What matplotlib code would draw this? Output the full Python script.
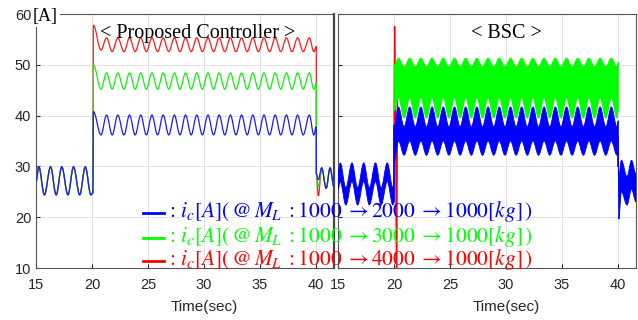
import matplotlib
matplotlib.use('Agg')
import matplotlib.pyplot as plt
from matplotlib.path import Path
from matplotlib.patches import PathPatch
from matplotlib.lines import Line2D

plt.rcParams['mathtext.fontset'] = 'stix'
plt.rcParams['font.family'] = ['Liberation Sans', 'DejaVu Sans']

# ---- values ----
x_ticks = [15, 20, 25, 30, 35, 40]
y_ticks = [10, 20, 30, 40, 50, 60]

# proposed controller, 15..20 s (all three loads identical, 1000 kg)
pre_t = [15.0, 15.25, 15.75, 16.3, 16.8, 17.3, 17.85, 18.35, 18.9, 19.4, 19.9, 20.08]
pre_v = [27.0, 29.9, 24.4, 29.9, 24.4, 29.9, 24.4, 29.9, 24.4, 29.9, 24.4, 24.8]

# proposed controller, 20..40 s : times of troughs / peaks
pc_trough_t = [20.8, 21.8, 22.85, 23.85, 24.85, 25.85, 26.85, 27.85, 28.85, 29.85,
               30.85, 31.85, 32.85, 33.85, 34.85, 35.85, 36.85, 37.85, 38.85]
pc_peak_t = [21.3, 22.3, 23.35, 24.35, 25.35, 26.35, 27.35, 28.35, 29.35, 30.35,
             31.35, 32.35, 33.35, 34.35, 35.35, 36.35, 37.35, 38.35, 39.4]
# jump peak, first trough, steady peak, steady trough, value at 40 s, dip after 40 s
pc_red = [57.8, 52.9, 55.3, 52.6, 53.6, 24.2]
pc_green = [50.0, 45.2, 48.4, 45.2, 46.4, 26.0]
pc_blue = [40.8, 36.2, 40.1, 36.2, 37.8, 27.4]
# common tail after 40 s
post_t = [40.02, 40.2, 40.5, 40.9, 41.25, 41.6]
post_v = [28.5, None, 29.7, 25.7, 29.7, 26.0]

# BSC, 15..20 s blue band
bsc_pre_t = [15.0, 15.2, 15.7, 16.25, 16.75, 17.3, 17.8, 18.35, 18.85, 19.4, 19.9, 20.0]
bsc_pre_hi = [29.0, 30.7, 25.8, 30.7, 25.8, 30.7, 25.8, 30.7, 25.8, 30.7, 25.8, 27.0]
bsc_pre_lo = [25.5, 27.0, 22.4, 27.0, 22.4, 27.0, 22.4, 27.0, 22.4, 27.0, 22.4, 23.0]

# BSC, 20..40 s bands: extremum times
bsc_t = [20.02, 20.4, 20.9, 21.4, 21.9, 22.4, 22.9, 23.4, 23.9, 24.4, 24.9, 25.4, 25.9,
         26.4, 26.9, 27.4, 27.9, 28.4, 28.9, 29.4, 29.9, 30.4, 30.9, 31.4, 31.9, 32.4,
         32.9, 33.4, 33.9, 34.4, 34.9, 35.4, 35.9, 36.4, 36.9, 37.4, 37.9, 38.4, 38.9,
         39.4, 39.9, 40.02]
# levels: (start, peak, trough, end)
bsc_green_hi = [50.0, 51.3, 49.6, 50.5]
bsc_green_lo = [41.0, 43.5, 39.5, 41.0]
bsc_blue_hi = [38.0, 41.7, 37.8, 39.0]
bsc_blue_lo = [31.0, 35.0, 32.2, 33.0]

# BSC after 40 s
bsc_post_t = [40.02, 40.06, 40.3, 40.8, 41.2, 41.6]
bsc_post_hi = [33.0, 28.0, 31.2, 28.0, 31.2, 28.5]
bsc_post_lo = [30.0, 19.6, 25.0, 22.4, 25.5, 23.0]

# BSC red start-up spike
red_spike_t = [19.98, 20.05, 20.12, 20.24, 20.3]
red_spike_v = [27.0, 57.5, 44.0, 5.0, 44.0]

legend_rows = [
    ('#0000ff', '2000'),
    ('#00ff00', '3000'),
    ('#ff0000', '4000'),
]


def smooth(t, v, k=0.36):
    verts = [(t[0], v[0])]
    codes = [Path.MOVETO]
    for i in range(1, len(t)):
        dt = t[i] - t[i - 1]
        verts += [(t[i - 1] + k * dt, v[i - 1]), (t[i] - k * dt, v[i]), (t[i], v[i])]
        codes += [Path.CURVE4] * 3
    return verts, codes


def wave_line(ax, t, v, color, lw=0.9):
    verts, codes = smooth(t, v)
    ax.add_patch(PathPatch(Path(verts, codes), fill=False, edgecolor=color, lw=lw, zorder=3))


def band(ax, t, hi, lo, color):
    v1, c1 = smooth(t, hi)
    v2, c2 = smooth(t[::-1], lo[::-1])
    c2[0] = Path.LINETO
    verts = v1 + v2 + [v1[0]]
    codes = c1 + c2 + [Path.CLOSEPOLY]
    ax.add_patch(PathPatch(Path(verts, codes), facecolor=color, edgecolor=color,
                           lw=0.6, zorder=3))


def pc_series(lv):
    t = list(pre_t) + [20.12]
    v = list(pre_v) + [lv[0]]
    for i, (tt, tp) in enumerate(zip(pc_trough_t, pc_peak_t)):
        t += [tt, tp]
        v += [lv[1] if i == 0 else lv[3], lv[2]]
    t += [39.8, 40.02]
    v += [lv[3], lv[4]]
    t += post_t
    v += [post_v[0], lv[5]] + post_v[2:]
    return t, v


def bsc_levels(lv):
    out = [lv[0]]
    for i in range(1, len(bsc_t) - 1):
        out.append(lv[1] if i % 2 == 1 else lv[2])
    out.append(lv[3])
    return out


fig = plt.figure(figsize=(6.38, 3.2), dpi=100)
ax1 = fig.add_axes([36 / 638, 52 / 320, 298 / 638, 254 / 320])
ax2 = fig.add_axes([338 / 638, 52 / 320, 298 / 638, 254 / 320])

# proposed controller
for lv, c in [(pc_red, '#ff1a1a'), (pc_green, '#10f010'), (pc_blue, '#1a1aff')]:
    t, v = pc_series(lv)
    wave_line(ax1, t, v, c)

# BSC
ax2.plot(red_spike_t, red_spike_v, color='#ff0000', lw=1.0, zorder=2)
band(ax2, bsc_t, bsc_levels(bsc_green_hi), bsc_levels(bsc_green_lo), '#00ff00')
band(ax2, bsc_t, bsc_levels(bsc_blue_hi), bsc_levels(bsc_blue_lo), '#0000ff')
band(ax2, bsc_pre_t, bsc_pre_hi, bsc_pre_lo, '#0000ff')
band(ax2, bsc_post_t, bsc_post_hi, bsc_post_lo, '#0000ff')
ax2.plot([20.0, 20.0], [23.0, 38.0], color='#0000ff', lw=1.2, zorder=3)
ax2.plot([40.02, 40.02], [30.0, 36.0], color='#0000ff', lw=1.2, zorder=3)

for ax in (ax1, ax2):
    ax.set_xlim(15, 41.6)
    ax.set_ylim(10, 60)
    ax.set_xticks(x_ticks)
    ax.set_yticks(y_ticks)
    ax.grid(True, color='#e2e2e2', lw=0.7)
    ax.set_axisbelow(True)
    ax.tick_params(direction='in', length=3, labelsize=10.5, colors='#262626',
                   top=False, right=False)
    ax.tick_params(axis='x', pad=7)
    for s in ax.spines.values():
        s.set_color('#555555')
        s.set_linewidth(0.8)
    ax.set_xlabel('Time(sec)', fontsize=11, color='#262626')
    ax.xaxis.set_label_coords(0.566, -0.125)

ax1.spines['right'].set_color('#444444')
ax1.spines['right'].set_linewidth(1.6)
ax2.tick_params(labelleft=False)

ax1.text(0.542, 0.905, '< Proposed Controller >', transform=ax1.transAxes,
         ha='center', va='baseline', fontsize=14.5, family='Liberation Serif')
ax2.text(0.564, 0.905, '< BSC >', transform=ax2.transAxes,
         ha='center', va='baseline', fontsize=14.5, family='Liberation Serif')
fig.text(33 / 638, 1 - 21 / 320, '[A]', ha='left', va='baseline', fontsize=13,
         family='Liberation Serif',
         bbox=dict(facecolor='white', edgecolor='none', pad=1.5), zorder=10)

# legend written across both panels
for i, (c, mid) in enumerate(legend_rows):
    y = [217, 242, 265][i]
    fig.add_artist(Line2D([143 / 638, 164 / 638], [1 - (y - 4) / 320] * 2,
                          color=c, lw=2.0))
    fig.text(166 / 638, 1 - y / 320,
             r'$:\,i_c[A]\left(\,@\,M_L\;:1000\;\rightarrow %s\;\rightarrow 1000[kg]\,\right)$' % mid,
             color=c, fontsize=15.5, ha='left', va='baseline', zorder=10)

fig.savefig('out.png', dpi=100)
